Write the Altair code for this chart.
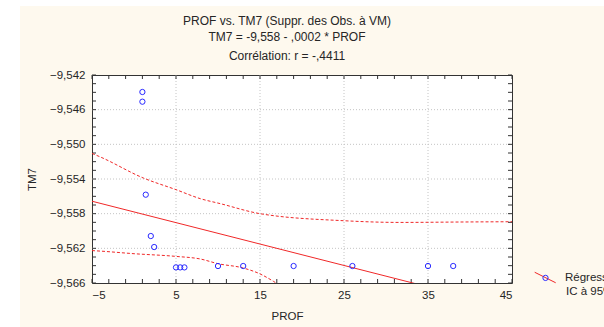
import altair as alt
import pandas as pd

# Observations (PROF, TM7)
prof = [1, 1, 1.4, 2, 2.4, 5, 5.5, 6, 10, 13, 19, 26, 35, 38]
tm7 = [-9.54396, -9.54508, -9.55581, -9.56058, -9.56185, -9.5642, -9.5642, -9.5642,
       -9.56404, -9.56404, -9.56404, -9.56404, -9.56404, -9.56404]

# Fitted regression TM7 = a + b * PROF
reg_intercept = -9.5578
reg_slope = -0.000247

# 95% confidence band
ic_hi_x = [-5, -4, 1.1, 5, 7.9, 10.3, 15, 24.9, 31.7, 39.2, 45]
ic_hi_y = [-9.55105, -9.55146, -9.55388, -9.55523, -9.55627, -9.55685, -9.55800,
           -9.55881, -9.55901, -9.55896, -9.55893]
ic_lo_x = [-5, -4, 0, 5, 7.9, 10, 13, 15, 16.6, 18]
ic_lo_y = [-9.56226, -9.56232, -9.56262, -9.56293, -9.56323, -9.56377, -9.56427,
           -9.56495, -9.56581, -9.5667]

# Axis ticks and grid
x_major = [-5, 5, 15, 25, 35, 45]
y_major = [-9.542, -9.546, -9.550, -9.554, -9.558, -9.562, -9.566]
x_grid = [5, 15, 25, 35]
y_grid = [-9.546, -9.550, -9.554, -9.558, -9.562]
x_minor = list(range(-5, 46, 2))
y_minor = [round(-9.566 + 0.001 * i, 3) for i in range(25)]

# Heading lines
heading = ["PROF vs. TM7 (Suppr. des Obs. à VM)",
           "TM7 = -9,558 - ,0002 * PROF",
           "Corrélation: r = -,4411"]

W, H = 420, 208
FONT = "Liberation Sans"
TXT = "#262626"
RED = "#f02828"
BLUE = "#2a2aff"
CREAM = "#fef9ee"

xs = alt.Scale(domain=[-5, 45], nice=False, zero=False)
ys = alt.Scale(domain=[-9.566, -9.542], nice=False, zero=False)

x_axis = alt.Axis(values=x_major, title="PROF", grid=False, ticks=False, tickSize=0,
                  domain=False, labelPadding=6, labelFontSize=11.5, labelFont=FONT,
                  labelColor=TXT, labelExpr="format(datum.value, 'd')",
                  titleX=195, titleY=33, titleBaseline="middle", titleAlign="center",
                  titleFontSize=11.5, titleFontWeight="normal", titleFont=FONT,
                  titleColor=TXT)
y_axis = alt.Axis(values=y_major, title="TM7", grid=False, ticks=False, tickSize=0,
                  domain=False, labelPadding=7, labelFontSize=11.5, labelFont=FONT,
                  labelColor=TXT,
                  labelExpr="replace(format(datum.value, '.3f'), '.', ',')",
                  titleX=-60, titleY=104, titleBaseline="middle", titleAlign="center",
                  titleFontSize=11.5, titleFontWeight="normal", titleFont=FONT,
                  titleColor=TXT)


def X(field):
    return alt.X(f"{field}:Q", scale=xs, axis=x_axis)


def Y(field):
    return alt.Y(f"{field}:Q", scale=ys, axis=y_axis)


one = pd.DataFrame({"k": [0]})

# white margins around the cream panel
strip_left = alt.Chart(one).mark_rect(color="white", clip=False).encode(
    x=alt.value(-92), x2=alt.value(-72), y=alt.value(-75), y2=alt.value(252))
strip_top = alt.Chart(one).mark_rect(color="white", clip=False).encode(
    x=alt.value(-92), x2=alt.value(512), y=alt.value(-75), y2=alt.value(-69))

# three centred heading lines above the plot
heading_layers = [
    alt.Chart(one).mark_text(
        text=line, font=FONT, fontSize=12, color=TXT, align="center",
        baseline="middle", clip=False).encode(
        x=alt.value(195), y=alt.value(yy))
    for line, yy in zip(heading, [-54.5, -38.3, -19.5])
]

grid_x = alt.Chart(pd.DataFrame({"gx": x_grid})).mark_rule(
    color="#c4c4c4", strokeDash=[1, 2], strokeWidth=1).encode(
    x=X("gx"), y=alt.value(0), y2=alt.value(H))
grid_y = alt.Chart(pd.DataFrame({"gy": y_grid})).mark_rule(
    color="#c4c4c4", strokeDash=[1, 2], strokeWidth=1).encode(
    y=Y("gy"), x=alt.value(0), x2=alt.value(W))

tick_style = dict(color="#333333", strokeWidth=1)
tx = pd.DataFrame({"tx": x_minor})
ty = pd.DataFrame({"ty": y_minor})
ticks_bottom = alt.Chart(tx).mark_rule(**tick_style).encode(
    x=X("tx"), y=alt.value(H), y2=alt.value(H - 4))
ticks_top = alt.Chart(tx).mark_rule(**tick_style).encode(
    x=X("tx"), y=alt.value(0), y2=alt.value(4))
ticks_left = alt.Chart(ty).mark_rule(**tick_style).encode(
    y=Y("ty"), x=alt.value(0), x2=alt.value(4))
ticks_right = alt.Chart(ty).mark_rule(**tick_style).encode(
    y=Y("ty"), x=alt.value(W), x2=alt.value(W - 4))

# confidence band curves
ic_df = pd.concat([
    pd.DataFrame({"x": ic_hi_x, "y": ic_hi_y, "side": "haut"}),
    pd.DataFrame({"x": ic_lo_x, "y": ic_lo_y, "side": "bas"}),
])
ic_df["ic"] = "IC à 95%"
bands = alt.Chart(ic_df).mark_line(
    color=RED, strokeWidth=1, clip=True, interpolate="monotone").encode(
    x=X("x"), y=Y("y"), detail="side:N",
    strokeDash=alt.StrokeDash(
        "ic:N", scale=alt.Scale(domain=["IC à 95%"], range=[[3, 2]]),
        legend=alt.Legend(orient="none", legendX=442.2, legendY=205.2, title=None,
                          symbolSize=441, symbolOpacity=0, labelOffset=8.8,
                          labelFontSize=11.5, labelFont=FONT, labelColor=TXT,
                          padding=0)))

# regression line
reg_x = [-5, 45]
reg_df = pd.DataFrame({"x": reg_x,
                       "y": [reg_intercept + reg_slope * v for v in reg_x],
                       "serie": "Régression"})
reg = alt.Chart(reg_df).mark_line(strokeWidth=1, clip=True).encode(
    x=X("x"), y=Y("y"),
    stroke=alt.Stroke(
        "serie:N", scale=alt.Scale(domain=["Régression"], range=[RED]),
        legend=alt.Legend(orient="none", legendX=442.2, legendY=191.5, title=None,
                          symbolType="M-1,-0.5L1,0.5", symbolSize=441,
                          symbolStrokeWidth=1, labelOffset=8.8,
                          labelFontSize=11.5, labelFont=FONT, labelColor=TXT,
                          padding=0)))

# observations
pts_df = pd.DataFrame({"x": prof, "y": tm7, "obs": "Observations"})
pts = alt.Chart(pts_df).mark_point(
    filled=False, size=28, strokeWidth=1, color=BLUE, opacity=1).encode(
    x=X("x"), y=Y("y"),
    shape=alt.Shape(
        "obs:N", scale=alt.Scale(domain=["Observations"], range=["circle"]),
        legend=alt.Legend(orient="none", legendX=450.0, legendY=199.4, title=None,
                          symbolSize=28, symbolStrokeColor=BLUE,
                          symbolFillColor="transparent", symbolStrokeWidth=1,
                          labelExpr="''", labelFontSize=1, padding=0)))

chart = alt.layer(
    strip_left, strip_top, *heading_layers, grid_x, grid_y,
    ticks_bottom, ticks_top, ticks_left, ticks_right,
    bands, reg, pts,
).properties(
    width=W, height=H,
    padding={"left": 92, "top": 75, "right": 92, "bottom": 44},
    autosize=alt.AutoSizeParams(type="none"),
).configure(
    background=CREAM,
).configure_view(
    fill="white", stroke="#333333", strokeWidth=1,
)

chart.save("out.html", embed_options={"renderer": "svg", "actions": False})
